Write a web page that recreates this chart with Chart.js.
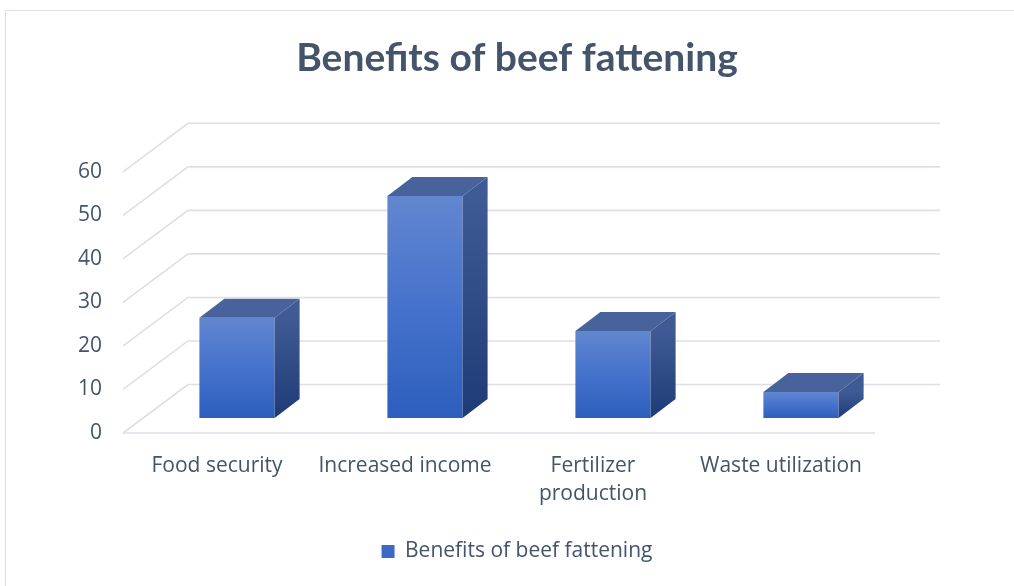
<!DOCTYPE html>
<html>
<head>
<meta charset="utf-8">
<script src="https://cdn.jsdelivr.net/npm/chart.js@4.4.1/dist/chart.umd.min.js"></script>
<style>
  html, body { margin: 0; padding: 0; background: #fff; }
  #chart { display: block; }
</style>
</head>
<body>
<canvas id="chart" width="1014" height="586"></canvas>
<script>
// chart data
const categories = ['Food security', 'Increased income', ['Fertilizer', 'production'], 'Waste utilization'];
const seriesName = 'Benefits of beef fattening';
const seriesValues = [23, 51, 20, 6];
const yTicks = [0, 10, 20, 30, 40, 50, 60];

const textColor = '#44546A';
const gridColor = '#dcdfe6';

// oblique offsets for the 3D look
const wallDepth = { dx: 65, dy: -48.5 };
const barShift = { dx: 20, dy: -15 };
const barDepth = { dx: 25, dy: -19 };

const frame = {
  id: 'frame',
  beforeDraw(chart) {
    const c = chart.ctx;
    c.save();
    c.strokeStyle = '#d9dde6';
    c.lineWidth = 1;
    c.beginPath();
    c.moveTo(5.5, chart.height);
    c.lineTo(5.5, 10.5);
    c.lineTo(chart.width, 10.5);
    c.stroke();
    c.restore();
  }
};

// back wall, side wall and floor lines, then push the bars back into the box
const box3d = {
  id: 'box3d',
  beforeDatasetsDraw(chart) {
    const c = chart.ctx;
    const { left, right } = chart.chartArea;
    const y = chart.scales.y;
    c.save();
    c.strokeStyle = gridColor;
    c.lineWidth = 1.6;
    yTicks.forEach(v => {
      const py = y.getPixelForValue(v);
      c.beginPath();
      c.moveTo(left, py);
      c.lineTo(left + wallDepth.dx, py + wallDepth.dy);
      c.lineTo(right + wallDepth.dx, py + wallDepth.dy);
      c.stroke();
    });
    // front floor edge
    const p0 = y.getPixelForValue(0);
    c.beginPath();
    c.moveTo(left, p0);
    c.lineTo(right, p0);
    c.stroke();
    c.restore();

    c.save();
    c.translate(barShift.dx, barShift.dy);
  },
  afterDatasetsDraw(chart) {
    const c = chart.ctx;
    const meta = chart.getDatasetMeta(0);
    meta.data.forEach(bar => {
      const { x, y, base, width } = bar.getProps(['x', 'y', 'base', 'width'], true);
      const l = x - width / 2;
      const r = x + width / 2;
      const { dx, dy } = barDepth;

      // side face
      const side = c.createLinearGradient(0, y, 0, base);
      side.addColorStop(0, '#3f5b95');
      side.addColorStop(1, '#1f3b77');
      c.fillStyle = side;
      c.beginPath();
      c.moveTo(r, y);
      c.lineTo(r + dx, y + dy);
      c.lineTo(r + dx, base + dy);
      c.lineTo(r, base);
      c.closePath();
      c.fill();

      // top face
      c.fillStyle = '#48639b';
      c.beginPath();
      c.moveTo(l, y);
      c.lineTo(l + dx, y + dy);
      c.lineTo(r + dx, y + dy);
      c.lineTo(r, y);
      c.closePath();
      c.fill();
    });
    c.restore();
  }
};

function frontFill(ctx) {
  const chart = ctx.chart;
  if (ctx.type !== 'data' || !chart.chartArea) return '#3d69c4';
  const y = chart.scales.y;
  const top = y.getPixelForValue(ctx.raw);
  const base = y.getPixelForValue(0);
  const g = chart.ctx.createLinearGradient(0, top, 0, base);
  g.addColorStop(0, '#6287d0');
  g.addColorStop(0.5, '#4572cc');
  g.addColorStop(1, '#2d5ebd');
  return g;
}

new Chart(document.getElementById('chart'), {
  type: 'bar',
  data: {
    labels: categories,
    datasets: [{
      label: seriesName,
      data: seriesValues,
      backgroundColor: frontFill,
      borderWidth: 0,
      categoryPercentage: 1,
      barPercentage: 0.4,
      clip: false
    }]
  },
  options: {
    responsive: false,
    animation: false,
    layout: { padding: { left: 20, right: 0, top: 0, bottom: 14 } },
    plugins: {
      title: {
        display: true,
        text: 'Benefits of beef fattening',
        color: textColor,
        font: { family: 'Lato', size: 39, weight: 'bold', lineHeight: 1.2 },
        padding: { top: 35, bottom: 90 }
      },
      legend: {
        position: 'bottom',
        labels: {
          color: textColor,
          font: { family: 'Open Sans', size: 21 },
          boxWidth: 13,
          boxHeight: 13,
          padding: 9,
          generateLabels(chart) {
            const items = Chart.defaults.plugins.legend.labels.generateLabels(chart);
            items.forEach(it => { it.fillStyle = '#3d69c4'; it.strokeStyle = '#3d69c4'; it.lineWidth = 0; });
            return items;
          }
        }
      },
      tooltip: { enabled: false }
    },
    scales: {
      x: {
        grid: { display: false },
        border: { display: false },
        ticks: {
          color: textColor,
          font: { family: 'Open Sans', size: 21, lineHeight: 1.333 },
          padding: 11,
          maxRotation: 0,
          autoSkip: false
        },
        afterFit(s) { s.height = 99; }
      },
      y: {
        min: 0,
        max: 60,
        grid: { display: false },
        border: { display: false },
        ticks: {
          stepSize: 10,
          color: textColor,
          font: { family: 'Open Sans', size: 21 },
          padding: 13
        },
        afterFit(s) { s.width = 103; }
      },
      wall: {
        position: 'right',
        display: true,
        grid: { display: false },
        border: { display: false },
        ticks: { display: false },
        afterFit(s) { s.width = 139; }
      }
    }
  },
  plugins: [frame, box3d]
});
</script>
</body>
</html>
